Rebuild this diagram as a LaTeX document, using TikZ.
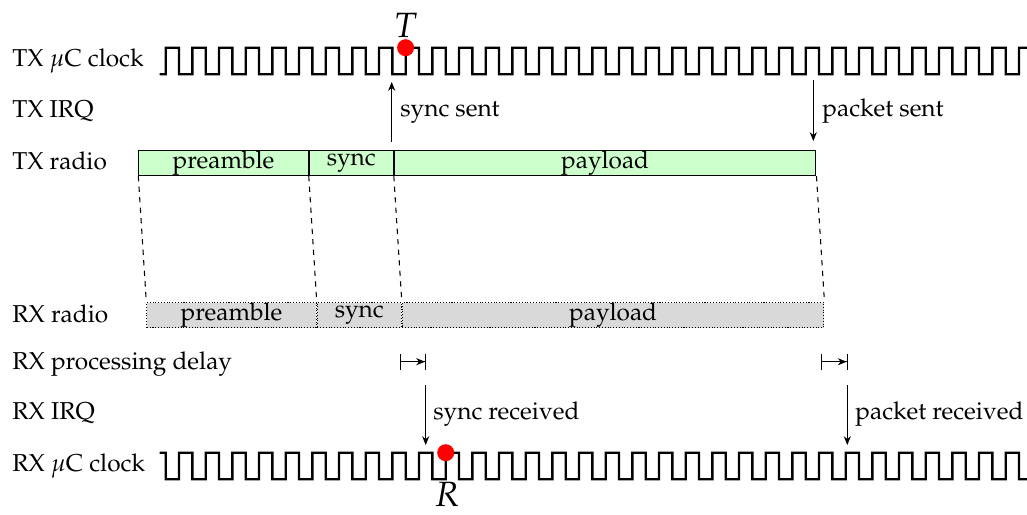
\documentclass[tikz,border=0pt]{standalone}
\usepackage[T1]{fontenc}
\usepackage{mathpazo}
\usetikzlibrary{arrows.meta}
\newcommand{\pxl}{0.02cm}

\begin{document}
\begin{tikzpicture}[x=\pxl, y=-\pxl, font=\fontsize{13.9}{16}\selectfont,
  clk/.style={line width=1.3pt, line join=miter},
  txbox/.style={draw, semithick, fill=green!20, minimum height=25*\pxl, inner sep=0pt, anchor=north west},
  rxbox/.style={draw, semithick, densely dotted, fill=black!15, minimum height=25*\pxl, inner sep=0pt, anchor=north west},
  lbl/.style={anchor=base west, inner sep=0pt},
  irq/.style={-{Stealth[length=5pt, width=4pt]}},
  delay/.style={{Bar[width=9pt]}-{Stealth[length=5pt, width=4pt]Bar[width=9pt]}},
  dot/.style={circle, fill=red, minimum size=17*\pxl, inner sep=0pt},
  tlabel/.style={font=\fontsize{20}{22}\selectfont, inner sep=0pt}]

\useasboundingbox (0,0) rectangle (1027,514);

\node[lbl] (ltxclk) at (12,66) {TX $\mu$C clock};
\node[lbl] (ltxirq) at (12,117) {TX IRQ};
\node[lbl] (ltxradio) at (12,169) {TX radio};
\node[lbl] (lrxradio) at (12,322) {RX radio};
\node[lbl] (lrxdelay) at (12,369) {RX processing delay};
\node[lbl] (lrxirq) at (12,419) {RX IRQ};
\node[lbl] (lrxclk) at (12,471) {RX $\mu$C clock};

\draw[clk] (159.5,74.3) -- (165.7,74.3)
  \foreach \k in {1,...,32}{ -- ++(0,-26.6) -- ++(13.333,0) -- ++(0,26.6) -- ++(13.333,0)}
  -- ++(0,-26.6) -- (1027,47.7);
\draw[clk] (159.5,452.7) -- (165.7,452.7)
  \foreach \k in {1,...,32}{ -- ++(0,26.6) -- ++(13.333,0) -- ++(0,-26.6) -- ++(13.333,0)}
  -- ++(0,26.6) -- (1027,479.3);

\node[dot] (tdot) at (405.6,47.7) {};
\node[tlabel] (tlbl) at (405.6,25) {$T$};
\node[dot] (rdot) at (445.7,452.7) {};
\node[tlabel] (rlbl) at (447,494) {$R$};

\node[txbox, minimum width=169.4*\pxl] (txpre) at (138.3,150) {preamble};
\node[txbox, minimum width=84*\pxl] (txsync) at (txpre.north east) {sync};
\node[txbox, minimum width=421.6*\pxl] (txpay) at (txsync.north east) {payload};

\node[rxbox, minimum width=169.4*\pxl] (rxpre) at (146.3,302) {preamble};
\node[rxbox, minimum width=84*\pxl] (rxsync) at (rxpre.north east) {sync};
\node[rxbox, minimum width=421.6*\pxl] (rxpay) at (rxsync.north east) {payload};

\draw[dashed, semithick] (txpre.south west) -- (rxpre.north west);
\draw[dashed, semithick] (txpre.south east) -- (rxpre.north east);
\draw[dashed, semithick] (txsync.south east) -- (rxsync.north east);
\draw[dashed, semithick] (txpay.south east) -- (rxpay.north east);

\coordinate (ssa) at (391.7,142);
\coordinate (ssb) at (391.7,82);
\coordinate (psa) at (813.3,80);
\coordinate (psb) at (813.3,141);
\draw[irq] (ssa) -- (ssb);
\draw[irq] (psa) -- (psb);
\node[lbl] (lss) at (400,116) {sync sent};
\node[lbl] (lps) at (822,116) {packet sent};

\coordinate (d1a) at (399.7,361.7);
\coordinate (d1b) at (425.7,361.7);
\coordinate (d2a) at (821.3,361.7);
\coordinate (d2b) at (847.3,361.7);
\draw[delay] (d1a) -- (d1b);
\draw[delay] (d2a) -- (d2b);

\coordinate (sra) at (425.7,385);
\coordinate (srb) at (425.7,445);
\coordinate (pra) at (847.3,385);
\coordinate (prb) at (847.3,445);
\draw[irq] (sra) -- (srb);
\draw[irq] (pra) -- (prb);
\node[lbl] (lsr) at (433,419) {sync received};
\node[lbl] (lpr) at (855,419) {packet received};

\end{tikzpicture}
\end{document}
